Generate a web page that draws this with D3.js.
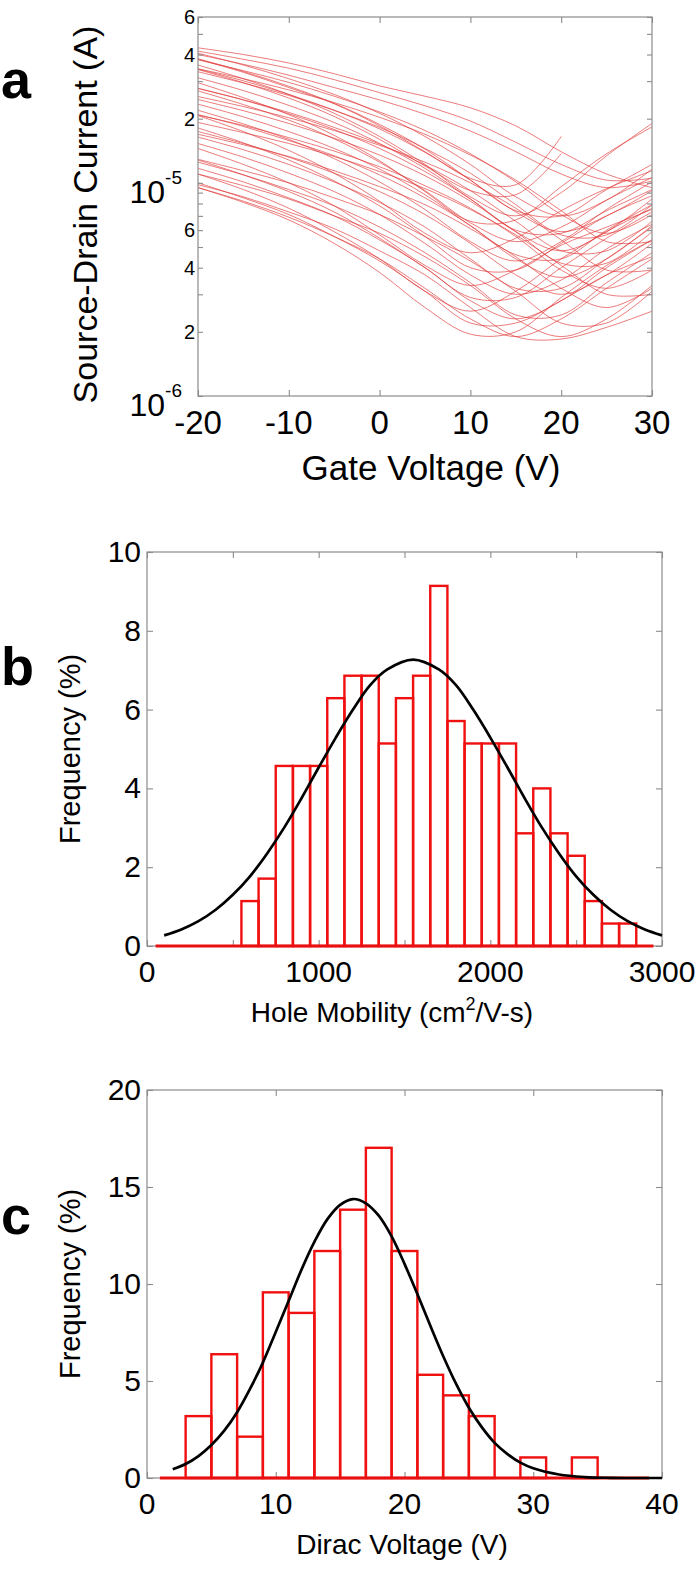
<!DOCTYPE html>
<html>
<head>
<meta charset="utf-8">
<script src="https://cdn.jsdelivr.net/npm/d3@7/dist/d3.min.js"></script>
<style>
html,body{margin:0;padding:0;background:#fff;}
svg{display:block;}
text{font-family:"Liberation Sans",Arial,Helvetica,sans-serif;fill:#000;}
</style>
</head>
<body>
<svg id="fig" width="695" height="1575"></svg>
<script>
// ---------- Panel a data: gate voltage sweep, source-drain current in µA ----------
const gateV = [-20,-15,-10,-5,0,5,10,15,20,25,30];
const curvesUA = [
  [43.0,40.0,36.5,32.5,28.5,25.5,22.5,18.5,14.0,11.0,9.5],
  [41.5,38.0,34.5,30.5,26.5,23.0,19.5,15.5,12.2,10.3,10.5],
  [38.2,33.3,28.4,23.6,18.8,14.4,10.3,7.4,7.0,9.3,12.2],
  [37.8,33.6,29.6,25.5,21.5,17.6,13.7,10.1,7.1,5.8,7.1],
  [35.7,30.8,26.0,21.2,16.5,12.2,8.6,7.0,9.0,13.4,19.0],
  [34.2,30.1,26.0,21.9,17.9,13.9,10.3,7.3,5.9,7.0,9.2],
  [33.2,29.4,25.7,21.9,18.2,14.5,11.1,7.9,5.7,5.7,7.9],
  [31.1,27.1,23.1,19.2,15.3,11.7,8.4,6.0,5.8,7.4,9.3],
  [29.5,25.1,20.9,16.7,12.7,9.1,6.6,6.7,9.6,13.7,18.3],
  [27.8,24.5,21.1,17.8,14.5,11.3,8.4,5.9,4.8,5.9,8.4],
  [27.0,23.3,19.7,16.1,12.5,9.2,6.5,5.3,6.2,8.3,10.6],
  [24.6,21.8,19.0,16.2,13.5,10.8,8.2,5.9,4.2,4.2,5.9],
  [23.4,20.4,17.4,14.5,11.6,8.8,6.3,4.6,4.4,6.0,7.9],
  [21.9,18.9,16.0,13.0,10.1,7.5,5.3,4.3,5.3,7.5,10.1],
  [20.8,18.6,16.3,14.1,11.9,9.7,7.6,5.6,3.9,3.2,3.9],
  [20.7,17.4,14.2,11.1,8.2,5.8,4.7,5.5,7.4,9.4,11.4],
  [18.1,15.4,12.8,10.2,7.8,5.6,4.0,3.9,5.2,7.0,8.7],
  [17.4,15.3,13.2,11.1,9.1,7.1,5.2,3.7,3.0,3.7,5.2],
  [16.4,14.3,12.2,10.1,8.1,6.2,4.4,3.2,3.2,4.4,6.2],
  [15.3,13.2,11.1,9.1,7.1,5.2,3.7,3.0,3.5,4.9,6.4],
  [12.9,11.4,10.0,8.5,7.1,5.6,4.3,3.1,2.2,2.2,3.1],
  [12.8,10.9,9.1,7.3,5.5,4.0,2.9,2.9,4.0,5.5,7.3],
  [12.5,10.9,9.3,7.8,6.2,4.7,3.4,2.4,2.4,3.4,4.7],
  [11.7,10.1,8.5,7.0,5.4,4.0,2.8,2.3,2.8,4.0,5.4],
  [11.0,9.7,8.4,7.0,5.8,4.5,3.3,2.3,1.9,2.3,3.3],
  [10.0,8.5,7.1,5.6,4.3,3.1,2.2,2.2,2.8,3.7,4.5],
  [9.5,8.2,6.9,5.6,4.4,3.2,2.3,1.9,2.3,3.2,4.4],
  [9.8,8.6,7.3,6.1,4.8,3.7,2.6,1.9,1.85,2.1,2.5],
  [25.4,22.8,20.2,17.6,15.0,12.5,10.0,7.6,5.4,3.9,3.9],
  [19.2,17.2,15.3,13.3,11.3,9.4,7.5,5.7,4.1,3.0,3.0],
  [14.5,12.2,10.0,7.8,5.7,4.1,3.3,3.9,5.1,6.2,7.5],
  [38.0,33.0,28.0,23.5,18.5,14.0,10.5,9.8,16.5,null,null],
  [34.0,29.5,25.0,20.5,16.0,12.0,9.2,8.8,13.7,null,null],
  [27.7,24.5,21.4,18.2,15.2,12.1,9.2,6.6,4.8,4.8,6.6],
  [20.9,18.4,15.8,13.4,10.9,8.5,6.3,4.4,3.6,4.4,6.3],
  [16.9,15.1,13.3,11.4,9.6,7.9,6.1,4.5,3.2,2.6,3.2],
  [40.0,36.0,32.0,28.0,24.5,21.0,17.5,14.0,11.0,9.5,10.2],
  [34.3,30.8,27.3,23.8,20.3,16.9,13.5,10.3,7.4,5.3,5.3],
  [40.6,35.7,30.8,26.0,21.2,16.5,12.2,8.6,7.0,8.3,11.6],
  [11.0,9.3,7.6,5.9,4.4,3.1,2.5,3.1,4.4,5.9,7.6],
  [9.5,8.1,6.7,5.2,3.8,2.6,1.95,2.0,2.9,4.1,5.4]
];
const aXTicks = [-20,-10,0,10,20,30];
const aYDecades = [1e-6,1e-5];
const aYDecadeExp = ["-6","-5"];
const aYLabeled = [2e-6,4e-6,6e-6,2e-5,4e-5,6e-5];
const aYLabeledText = ["2","4","6","2","4","6"];
const aYMinor = [1e-6,2e-6,3e-6,4e-6,5e-6,6e-6,7e-6,8e-6,9e-6,1e-5,2e-5,3e-5,4e-5,5e-5,6e-5];

// ---------- Panel b data: hole mobility histogram ----------
const mobBinCenters = [100,200,300,400,500,600,700,800,900,1000,1100,1200,1300,1400,1500,1600,1700,1800,1900,2000,2100,2200,2300,2400,2500,2600,2700,2800,2900];
const mobFreq = [0,0,0,0,0,1.14,1.71,4.57,4.57,4.57,6.29,6.86,6.86,5.14,6.29,6.86,9.14,5.71,5.14,5.14,5.14,2.86,4.00,2.86,2.29,1.14,0.57,0.57,0];
const mobBinWidth = 100;
const mobFitX = [100,200,300,400,500,600,700,800,900,1000,1100,1200,1300,1400,1550,1700,1800,1900,2000,2100,2200,2300,2400,2500,2600,2700,2800,2900,3000];
const mobFitY = [0.27,0.42,0.63,0.92,1.30,1.77,2.35,3.01,3.75,4.53,5.29,6.00,6.62,7.02,7.27,7.02,6.62,6.00,5.29,4.53,3.75,3.01,2.35,1.77,1.30,0.92,0.63,0.42,0.27];
const bXTicks = [0,500,1000,1500,2000,2500,3000];
const bXLabels = [0,1000,2000,3000];
const bYTicks = [0,2,4,6,8,10];

// ---------- Panel c data: Dirac voltage histogram ----------
const diracBinCenters = [2,4,6,8,10,12,14,16,18,20,22,24,26,28,30,32,34,36,38];
const diracFreq = [0,3.19,6.38,2.13,9.57,8.51,11.70,13.83,17.02,11.70,5.32,4.26,3.19,0,1.06,0,1.06,0,0];
const diracBinWidth = 2;
const diracFitX = [2,3,4,5,6,7,8,9,10,11,12,13,14,15,16,17,18,19,20,21,22,23,24,25,26,27,28,29,30,32,34,36,38,40];
const diracFitY = [0.45,0.72,1.13,1.70,2.44,3.39,4.59,5.95,7.53,9.13,10.74,12.17,13.33,14.08,14.38,14.16,13.52,12.45,11.04,9.48,7.86,6.29,4.86,3.62,2.62,1.81,1.23,0.79,0.50,0.18,0.05,0.01,0.0,0.0];
const cXTicks = [0,10,20,30,40];
const cYTicks = [0,5,10,15,20];

// ---------- drawing ----------
const svg = d3.select("#fig");
const AXIS = "#8c8c8c";

function box(g, x0, x1, y0, y1){
  g.append("rect").attr("x",x0).attr("y",y0).attr("width",x1-x0).attr("height",y1-y0)
   .attr("fill","none").attr("stroke",AXIS).attr("stroke-width",1.2);
}
function styleAxis(sel){
  sel.select(".domain").remove();
  sel.selectAll(".tick line").attr("stroke",AXIS).attr("stroke-width",1.1);
  sel.selectAll(".tick text").remove();
}

// ===== Panel a =====
{
  const L=198, R=652, T=17, B=396;
  const x = d3.scaleLinear().domain([-20,30]).range([L,R]);
  const y = d3.scaleLog().domain([1e-6,6e-5]).range([B,T]);
  const g = svg.append("g");
  const line = d3.line()
    .defined(d => d[1] != null)
    .x(d => x(d[0])).y(d => y(d[1]*1e-6))
    .curve(d3.curveCatmullRom.alpha(0.5));
  g.append("g").selectAll("path").data(curvesUA).join("path")
    .attr("d", c => line(c.map((v,i)=>[gateV[i], v])))
    .attr("fill","none").attr("stroke","#e23b3b").attr("stroke-width",0.8).attr("stroke-opacity",0.85);
  box(g,L,R,T,B);
  g.append("g").attr("transform",`translate(0,${B})`).call(d3.axisBottom(x).tickValues(aXTicks).tickSize(-6)).call(styleAxis);
  g.append("g").attr("transform",`translate(0,${T})`).call(d3.axisTop(x).tickValues(aXTicks).tickSize(-6)).call(styleAxis);
  g.append("g").attr("transform",`translate(${L},0)`).call(d3.axisLeft(y).tickValues(aYMinor).tickSize(-5)).call(styleAxis);
  g.append("g").attr("transform",`translate(${R},0)`).call(d3.axisRight(y).tickValues(aYMinor).tickSize(-5)).call(styleAxis);
  g.append("g").selectAll("text").data(aXTicks).join("text")
    .attr("x", d=>x(d)).attr("y", B+38).attr("text-anchor","middle")
    .attr("font-size",33).text(d=>d);
  g.append("g").selectAll("text").data(aYLabeled).join("text")
    .attr("x", L-3).attr("y", d=>y(d)+7).attr("text-anchor","end")
    .attr("font-size",20).text((d,i)=>aYLabeledText[i]);
  const dec = g.append("g").selectAll("text").data(aYDecades).join("text")
    .attr("x", L-16).attr("y", d=>y(d)+20).attr("text-anchor","end").attr("font-size",32);
  dec.append("tspan").text("10");
  dec.append("tspan").attr("dy",-19).attr("font-size",19).text((d,i)=>aYDecadeExp[i]);
  g.append("text").attr("x",431).attr("y",B+84).attr("text-anchor","middle").attr("font-size",35).text("Gate Voltage (V)");
  g.append("text").attr("transform",`translate(97,${(T+B)/2+8}) rotate(-90)`).attr("text-anchor","middle").attr("font-size",34).text("Source-Drain Current (A)");
  g.append("text").attr("x",1).attr("y",98).attr("font-size",54).attr("font-weight","bold").text("a");
}

function histPanel(opts){
  const {L,R,T,B,xDom,yDom,centers,freq,bw,fitX,fitY,xTicks,xLabels,yTicks,xTitle,label,labelY,xTitleSup,titleSize,titleX} = opts;
  const x = d3.scaleLinear().domain(xDom).range([L,R]);
  const y = d3.scaleLinear().domain(yDom).range([B,T]);
  const g = svg.append("g");
  box(g,L,R,T,B);
  g.append("g").attr("transform",`translate(0,${B})`).call(d3.axisBottom(x).tickValues(xTicks).tickSize(-6)).call(styleAxis);
  g.append("g").attr("transform",`translate(0,${T})`).call(d3.axisTop(x).tickValues(xTicks).tickSize(-6)).call(styleAxis);
  g.append("g").attr("transform",`translate(${L},0)`).call(d3.axisLeft(y).tickValues(yTicks).tickSize(-6)).call(styleAxis);
  g.append("g").attr("transform",`translate(${R},0)`).call(d3.axisRight(y).tickValues(yTicks).tickSize(-6)).call(styleAxis);
  // bars
  const bars = centers.map((c,i)=>({c, f:freq[i]})).filter(d=>d.f>0);
  g.append("g").selectAll("rect").data(bars).join("rect")
    .attr("x", d=>x(d.c-bw/2)).attr("width", d=>x(d.c+bw/2)-x(d.c-bw/2))
    .attr("y", d=>y(d.f)).attr("height", d=>y(0)-y(d.f))
    .attr("fill","none").attr("stroke","#f01010").attr("stroke-width",2.4);
  g.append("line").attr("x1",x(centers[0]-bw/2)).attr("x2",x(centers[centers.length-1]+bw/2))
    .attr("y1",y(0)).attr("y2",y(0)).attr("stroke","#e81010").attr("stroke-width",3);
  // fit
  const line = d3.line().x(d=>x(d[0])).y(d=>y(d[1])).curve(d3.curveCatmullRom.alpha(0.5));
  g.append("path").attr("d", line(fitX.map((v,i)=>[v,fitY[i]])))
    .attr("fill","none").attr("stroke","#000").attr("stroke-width",2.7);
  // labels
  g.append("g").selectAll("text").data(xLabels).join("text")
    .attr("x", d=>x(d)).attr("y", B+36).attr("text-anchor","middle").attr("font-size",30).text(d=>d);
  g.append("g").selectAll("text").data(yTicks).join("text")
    .attr("x", L-6).attr("y", d=>y(d)+10).attr("text-anchor","end").attr("font-size",30).text(d=>d);
  const t = g.append("text").attr("x",titleX).attr("y",B+76).attr("text-anchor","middle").attr("font-size",titleSize);
  if (xTitleSup){
    t.append("tspan").text(xTitle[0]);
    t.append("tspan").attr("dy",-12).attr("font-size",18).text(xTitle[1]);
    t.append("tspan").attr("dy",12).text(xTitle[2]);
  } else t.text(xTitle);
  g.append("text").attr("transform",`translate(80,${(T+B)/2}) rotate(-90)`).attr("text-anchor","middle").attr("font-size",29).text("Frequency (%)");
  g.append("text").attr("x",1).attr("y",labelY).attr("font-size",54).attr("font-weight","bold").text(label);
}

histPanel({L:147,R:662,T:552,B:946,xDom:[0,3000],yDom:[0,10],centers:mobBinCenters,freq:mobFreq,bw:mobBinWidth,
  fitX:mobFitX,fitY:mobFitY,xTicks:bXTicks,xLabels:bXLabels,yTicks:bYTicks,
  xTitle:["Hole Mobility (cm","2","/V-s)"],xTitleSup:true,label:"b",labelY:685,titleSize:28,titleX:392});
histPanel({L:147,R:662,T:1090,B:1478,xDom:[0,40],yDom:[0,20],centers:diracBinCenters,freq:diracFreq,bw:diracBinWidth,
  fitX:diracFitX,fitY:diracFitY,xTicks:cXTicks,xLabels:cXTicks,yTicks:cYTicks,
  xTitle:"Dirac Voltage (V)",xTitleSup:false,label:"c",labelY:1234,titleSize:28,titleX:402});
</script>
</body>
</html>
